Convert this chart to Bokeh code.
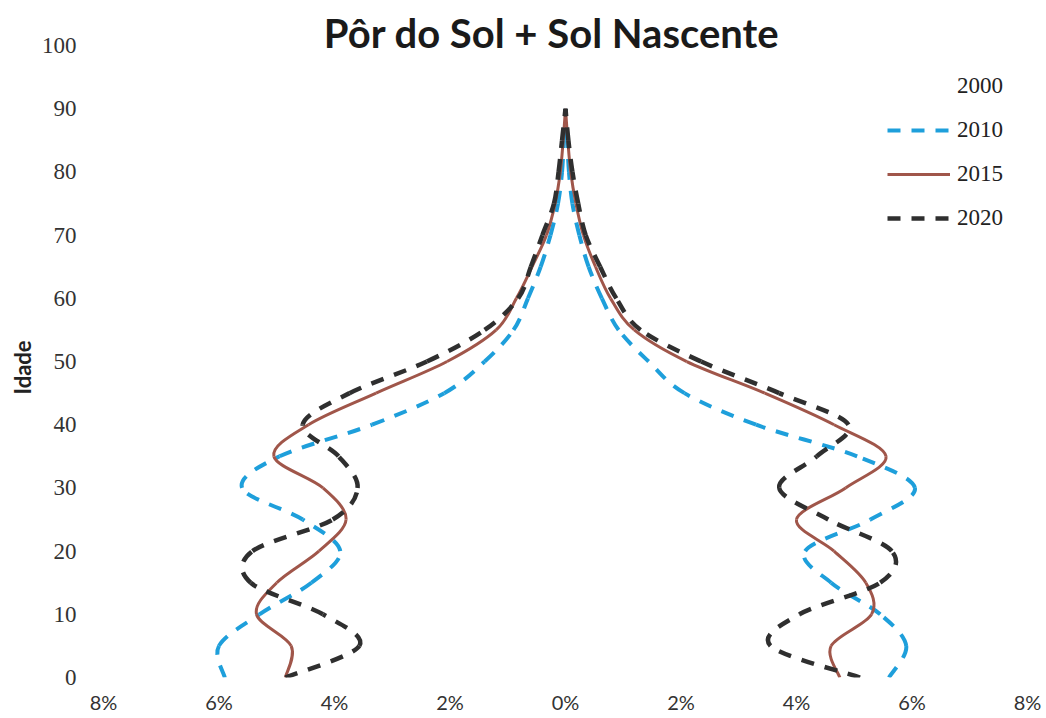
import numpy as np
from bokeh.plotting import figure
from bokeh.models import Legend, LegendItem, Label, Title, Range1d, FixedTicker, ColumnDataSource
from bokeh.embed import file_html
from bokeh.resources import INLINE

# ---------------- data ----------------
ages = [0, 5, 10, 15, 20, 25, 30, 35, 40, 45, 50, 55, 60, 65, 70, 75, 80, 85, 90]

# left side ("Pôr do Sol") in %, negative
left_2010 = [-5.9, -6.0, -5.3, -4.4, -3.9, -4.55, -5.6, -4.95, -3.35, -2.1, -1.4, -0.9, -0.65, -0.43, -0.26, -0.13, -0.06, -0.03, 0.0]
left_2015 = [-4.85, -4.75, -5.35, -5.0, -4.27, -3.8, -4.2, -5.05, -4.45, -3.28, -2.05, -1.2, -0.85, -0.58, -0.33, -0.18, -0.09, -0.04, 0.0]
left_2020 = [-4.85, -3.57, -4.2, -5.45, -5.42, -4.03, -3.6, -3.93, -4.55, -3.74, -2.4, -1.4, -0.82, -0.6, -0.4, -0.2, -0.12, -0.06, 0.0]

# right side ("Sol Nascente") in %, positive
right_2010 = [5.6, 5.9, 5.45, 4.6, 4.15, 5.28, 6.05, 5.05, 3.3, 2.06, 1.44, 0.92, 0.63, 0.4, 0.24, 0.12, 0.06, 0.03, 0.0]
right_2015 = [4.75, 4.6, 5.3, 5.2, 4.65, 4.0, 4.85, 5.55, 4.65, 3.45, 2.1, 1.19, 0.78, 0.52, 0.31, 0.18, 0.09, 0.04, 0.0]
right_2020 = [5.1, 3.55, 4.05, 5.45, 5.65, 4.55, 3.7, 4.35, 4.9, 3.7, 2.35, 1.3, 0.88, 0.6, 0.35, 0.22, 0.12, 0.05, 0.0]

series_names = ["2000", "2010", "2015", "2020"]

x_ticks = [-8, -6, -4, -2, 0, 2, 4, 6, 8]
x_tick_labels = ["8%", "6%", "4%", "2%", "0%", "2%", "4%", "6%", "8%"]
y_ticks = [0, 10, 20, 30, 40, 50, 60, 70, 80, 90, 100]

title_text = "Pôr do Sol + Sol  Nascente"
y_axis_title = "Idade"


# ------------- smooth (Excel-like) curve segments -------------
def bezier_source(xs, ys):
    P = np.column_stack([xs, ys]).astype(float)
    Pm = np.vstack([P[0], P, P[-1]])
    d = dict(x0=[], y0=[], x1=[], y1=[], cx0=[], cy0=[], cx1=[], cy1=[])
    for i in range(len(P) - 1):
        p0, p1, p2, p3 = Pm[i], Pm[i + 1], Pm[i + 2], Pm[i + 3]
        c1 = p1 + (p2 - p0) / 6.0
        c2 = p2 - (p3 - p1) / 6.0
        d["x0"].append(p1[0]); d["y0"].append(p1[1])
        d["x1"].append(p2[0]); d["y1"].append(p2[1])
        d["cx0"].append(c1[0]); d["cy0"].append(c1[1])
        d["cx1"].append(c2[0]); d["cy1"].append(c2[1])
    return ColumnDataSource(d)


p = figure(
    frame_width=924, frame_height=673,
    min_border_left=103, min_border_right=17, min_border_top=4, min_border_bottom=39,
    x_range=Range1d(-8, 8), y_range=Range1d(0, 106.5),
    output_backend="svg", toolbar_location=None,
    background_fill_color="white", border_fill_color="white",
)
p.outline_line_color = None
p.xgrid.visible = False
p.ygrid.visible = False

styles = {
    "2000": dict(line_color="white", line_alpha=0.0, line_width=3, line_dash="solid"),
    "2010": dict(line_color="#1E9FDB", line_alpha=1.0, line_width=4, line_dash="13 11"),
    "2015": dict(line_color="#A0564A", line_alpha=1.0, line_width=3, line_dash="solid"),
    "2020": dict(line_color="#2F2F2F", line_alpha=1.0, line_width=4.5, line_dash="13 11"),
}
data_sides = {
    "2000": ([], []),
    "2010": (left_2010, right_2010),
    "2015": (left_2015, right_2015),
    "2020": (left_2020, right_2020),
}

legend_items = []
for name in series_names:
    st = styles[name]
    rends = []
    for side in data_sides[name]:
        if len(side) == 0:
            src = ColumnDataSource(dict(x0=[0], y0=[0], x1=[0], y1=[0], cx0=[0], cy0=[0], cx1=[0], cy1=[0]))
        else:
            src = bezier_source(side, ages)
        r = p.bezier(x0="x0", y0="y0", x1="x1", y1="y1", cx0="cx0", cy0="cy0",
                     cx1="cx1", cy1="cy1", source=src, line_cap="butt", **st)
        rends.append(r)
    legend_items.append(LegendItem(label=name, renderers=[rends[0]]))

legend = Legend(
    items=legend_items, location=(784, 446),
    border_line_alpha=0, background_fill_alpha=0,
    glyph_width=63, glyph_height=24, label_height=24, spacing=18,
    padding=0, margin=0, label_standoff=7,
    label_text_font="Liberation Serif", label_text_font_size="23px",
    label_text_color="#222222",
)
p.add_layout(legend)

# axes
xa = p.xaxis[0]
xa.ticker = FixedTicker(ticks=x_ticks)
xa.major_label_overrides = {t: l for t, l in zip(x_ticks, x_tick_labels)}
xa.axis_line_color = None
xa.major_tick_line_color = None
xa.minor_tick_line_color = None
xa.major_tick_out = 0
xa.major_label_standoff = 12
xa.major_label_text_font = "Lato"
xa.major_label_text_font_size = "20px"
xa.major_label_text_color = "#333333"

ya = p.yaxis[0]
ya.ticker = FixedTicker(ticks=y_ticks)
ya.axis_line_color = None
ya.major_tick_line_color = None
ya.minor_tick_line_color = None
ya.major_tick_out = 0
ya.major_label_standoff = 27
ya.major_label_text_font = "Liberation Serif"
ya.major_label_text_font_size = "23px"
ya.major_label_text_color = "#333333"

y_title = Title(
    text=y_axis_title, align="left", offset=283, standoff=6,
    text_font="Lato", text_font_style="bold", text_font_size="22px",
    text_color="#222222",
)
p.add_layout(y_title, "left")

title = Label(
    x=453, y=645, x_units="screen", y_units="screen", text=title_text,
    text_align="center", text_baseline="alphabetic",
    text_font="Lato", text_font_style="bold", text_font_size="40px",
    text_color="#1a1a1a",
)
p.add_layout(title)

open("out.html", "w").write(file_html(p, INLINE))
